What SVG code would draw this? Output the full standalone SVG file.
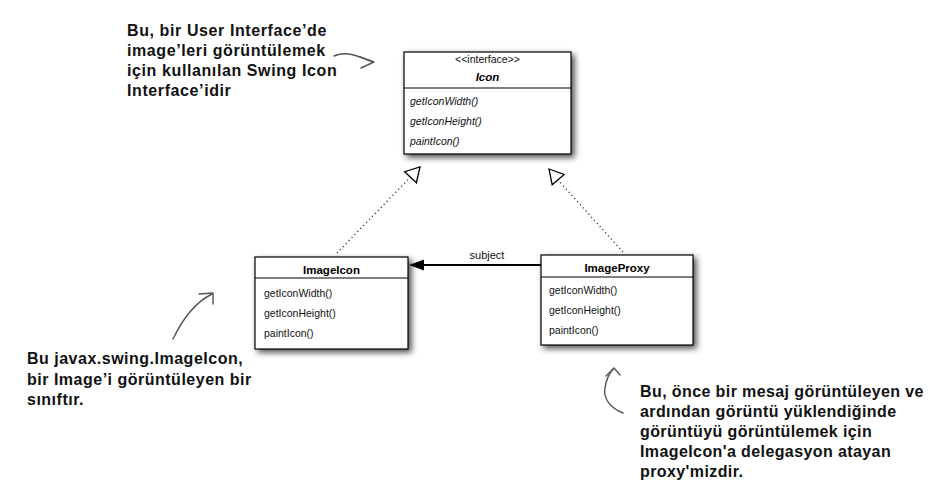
<svg xmlns="http://www.w3.org/2000/svg" width="945" height="503" viewBox="0 0 945 503">
<defs>
<filter id="sh" x="-10%" y="-10%" width="130%" height="140%">
<feGaussianBlur in="SourceAlpha" stdDeviation="3"/>
<feOffset dx="3" dy="3" result="b"/>
<feComponentTransfer><feFuncA type="linear" slope="0.7"/></feComponentTransfer>
<feMerge><feMergeNode/><feMergeNode in="SourceGraphic"/></feMerge>
</filter>
</defs>
<style>
.box{fill:#fff;stroke:#000;stroke-width:1.2}
.div{stroke:#000;stroke-width:1}
.m{font-family:"Liberation Sans",Arial,sans-serif;font-size:10.5px;fill:#111}
.mi{font-style:italic}
.t{font-family:"Liberation Sans",Arial,sans-serif;font-size:11.5px;font-weight:bold;text-anchor:middle;fill:#000}
.note{font-family:"Liberation Sans",Arial,sans-serif;font-size:16px;font-weight:bold;fill:#111}
.dot{stroke:#333;stroke-width:1.3;stroke-dasharray:1.2 3;fill:none}
.hand{stroke:#555;stroke-width:1.4;fill:none;stroke-linecap:round;stroke-linejoin:round}
</style>
<rect width="945" height="503" fill="#fff"/>

<g id="icon">
<rect class="box" x="404" y="52" width="167" height="102" filter="url(#sh)"/>
<line class="div" x1="404" y1="88" x2="571" y2="88"/>
<text x="487.5" y="63" text-anchor="middle" font-family="'Liberation Sans',Arial,sans-serif" font-size="10.5px" fill="#111">&lt;&lt;interface&gt;&gt;</text>
<text class="t" x="487.5" y="81" font-style="italic" font-size="13px">Icon</text>
<text class="m mi" x="410" y="105">getIconWidth()</text>
<text class="m mi" x="410" y="125">getIconHeight()</text>
<text class="m mi" x="410" y="145">paintIcon()</text>
</g>

<g id="imageicon">
<rect class="box" x="255" y="257" width="153" height="92" filter="url(#sh)"/>
<line class="div" x1="255" y1="278" x2="408" y2="278"/>
<text class="t" x="331.5" y="274">ImageIcon</text>
<text class="m" x="264" y="297">getIconWidth()</text>
<text class="m" x="264" y="317">getIconHeight()</text>
<text class="m" x="264" y="337">paintIcon()</text>
</g>

<g id="imageproxy">
<rect class="box" x="541" y="255" width="152" height="90" filter="url(#sh)"/>
<line class="div" x1="541" y1="277" x2="693" y2="277"/>
<text class="t" x="617" y="272">ImageProxy</text>
<text class="m" x="549" y="294">getIconWidth()</text>
<text class="m" x="549" y="314">getIconHeight()</text>
<text class="m" x="549" y="334">paintIcon()</text>
</g>

<g id="connectors">
<line class="dot" x1="337" y1="253" x2="410.5" y2="177"/>
<polygon points="420,167 416.4,182.7 404.6,171.7" fill="#fff" stroke="#000" stroke-width="1.3"/>
<line class="dot" x1="623" y1="252" x2="558" y2="180"/>
<polygon points="549,169 564.2,174.4 552.2,184.8" fill="#fff" stroke="#000" stroke-width="1.3"/>
<line x1="541" y1="265" x2="420" y2="265" stroke="#000" stroke-width="2.2"/>
<polygon points="409,265 424,259.5 424,270.5" fill="#000"/>
<text x="487" y="259" text-anchor="middle" font-family="'Liberation Sans',Arial,sans-serif" font-size="11px" fill="#111">subject</text>
</g>

<g id="note-top" letter-spacing="0.6">
<text class="note" x="127" y="36">Bu, bir User Interface’de</text>
<text class="note" x="127" y="56">image’leri görüntülemek</text>
<text class="note" x="127" y="76">için kullanılan Swing Icon</text>
<text class="note" x="127" y="96">Interface’idir</text>
<path class="hand" d="M334,56 C346,51 356,55 373,62"/>
<path class="hand" d="M360,57 L374,62 L361,68"/>
</g>

<g id="note-left" letter-spacing="0.5">
<text class="note" x="27" y="364">Bu javax.swing.ImageIcon,</text>
<text class="note" x="27" y="385">bir Image’i görüntüleyen bir</text>
<text class="note" x="27" y="405">sınıftır.</text>
<path class="hand" d="M173,339 C183,318 196,302 212,294"/>
<path class="hand" d="M199,294 L213,293 L213,304"/>
</g>

<g id="note-right" letter-spacing="0.4">
<text class="note" x="640" y="397">Bu, önce bir mesaj görüntüleyen ve</text>
<text class="note" x="640" y="417">ardından görüntü yüklendiğinde</text>
<text class="note" x="640" y="437">görüntüyü görüntülemek için</text>
<text class="note" x="640" y="457">ImageIcon'a delegasyon atayan</text>
<text class="note" x="640" y="477">proxy'mizdir.</text>
<path class="hand" d="M623,413 C610,408 603,398 605,388 C606,380 609,374 613,369"/>
<path class="hand" d="M606,376 L614,368 L620,375"/>
</g>
</svg>
